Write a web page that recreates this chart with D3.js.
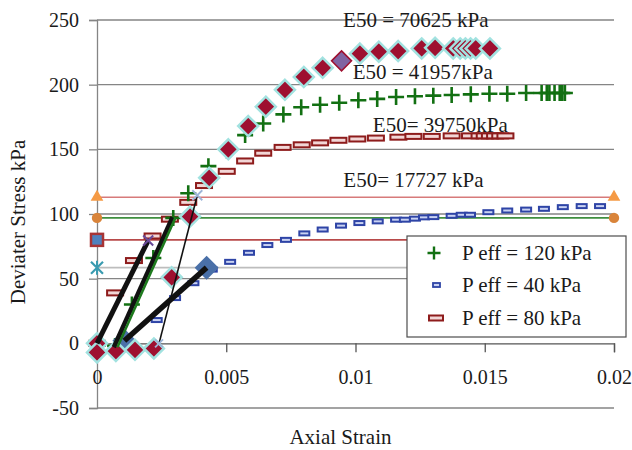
<!DOCTYPE html>
<html><head><meta charset="utf-8">
<script src="https://cdn.jsdelivr.net/npm/d3@7"></script>
<style>body{margin:0;background:#fff}svg{display:block}text{font-family:"Liberation Serif","Times New Roman",serif;fill:#1a1a1a}</style>
</head><body><svg id="c" width="632" height="450"></svg>
<script>
// ---- data ----
const yTicks = [-50, 0, 50, 100, 150, 200, 250];
const yTickLabels = ["-50", "0", "50", "100", "150", "200", "250"];
const xTicks = [0, 0.005, 0.01, 0.015, 0.02];
const xTickLabels = ["0", "0.005", "0.01", "0.015", "0.02"];

const strain120 = [0.0007, 0.00135, 0.00218, 0.00295, 0.00353, 0.00431, 0.00503, 0.00573, 0.00643, 0.00721, 0.0079, 0.00863, 0.00937, 0.01011, 0.01084, 0.01157, 0.0123, 0.01301, 0.01372, 0.01446, 0.01518, 0.01587, 0.0166, 0.0172, 0.0174, 0.0175, 0.0177, 0.0179, 0.018, 0.0181];
const stress120 = [-2, 30, 66, 97, 116, 137, 149, 161, 170, 177, 182.5, 184.5, 186, 188, 189, 190.5, 191, 191.5, 192, 192.5, 193, 193, 193.5, 193.5, 193.5, 193.5, 193.5, 193.5, 193.5, 193.5];

const strain40 = [0.00231, 0.00302, 0.00373, 0.00444, 0.00515, 0.00588, 0.00659, 0.00731, 0.00802, 0.00873, 0.00944, 0.01015, 0.01086, 0.01157, 0.01191, 0.0123, 0.01265, 0.01301, 0.01372, 0.01411, 0.01443, 0.01514, 0.01587, 0.0166, 0.01729, 0.01802, 0.01875, 0.01946];
const stress40 = [18, 35, 46.5, 57, 63, 70, 76, 80, 85, 88, 91, 93, 94.3, 95.6, 95.6, 96.4, 97.4, 97.6, 98.6, 99.4, 99.4, 101.4, 102.7, 103.4, 104, 105.3, 106.1, 106.1];

const strain80 = [0, 0.0007, 0.00143, 0.00215, 0.00282, 0.00353, 0.00414, 0.00502, 0.00573, 0.00643, 0.00718, 0.00792, 0.00863, 0.00934, 0.01007, 0.01079, 0.01166, 0.01224, 0.01295, 0.01372, 0.01443, 0.0148, 0.015, 0.0152, 0.0154, 0.0156, 0.0158];
const stress80 = [0, 39, 64, 83, 96, 109, 122, 133, 141, 147, 151.5, 153.5, 155, 157, 158, 158.7, 159.4, 160, 160, 160.4, 160.4, 160.4, 160.4, 160.4, 160.4, 160.4, 160.4];

const strainDia = [0, 0, 0.00073, 0.00147, 0.0022, 0.00289, 0.0036, 0.00434, 0.00508, 0.00585, 0.00653, 0.00727, 0.008, 0.00873, 0.01017, 0.0109, 0.01165, 0.01256, 0.01308, 0.01378, 0.01405, 0.01425, 0.01445, 0.01465, 0.0152];
const stressDia = [0, -7, -6, -5, -4, 51, 98, 128, 150, 168, 183, 196, 206, 213, 224, 225.5, 226, 228, 228.5, 228, 228, 228, 228, 228, 228];
const peakStrain = [0.00946];
const peakStress = [218.4];

const halfLevels = [113, 97, 80, 58.5];

// E50 secant lines: [strainStart, stressStart, strainEnd, stressEnd]
const e50_80 = [0, 0, 0.00198, 79.5];
const e50_120black = [0.00065, -3, 0.00292, 97.5];
const e50_120green = [0.00079, -3, 0.00303, 97];
const e50_40 = [0.00106, 2, 0.00424, 58.5];
const e50_dia = [0.0024, 0, 0.00388, 114.5];

const legendLabels = ["P eff = 120 kPa", "P eff = 40 kPa", "P eff = 80 kPa"];
const e50Labels = ["E50 = 70625 kPa", "E50 = 41957kPa", "E50= 39750kPa", "E50= 17727 kPa"];

// ---- drawing ----
const svg = d3.select("#c");
const x = d3.scaleLinear().domain([0, 0.02]).range([97, 614]);
const y = d3.scaleLinear().domain([-50, 250]).range([408, 20]);
const zip = (a, b) => a.map((v, i) => [v, b[i]]);

// gridlines
svg.append("g").selectAll("line").data(yTicks.filter(d => d !== 0)).join("line")
  .attr("x1", x(0)).attr("x2", x(0.02)).attr("y1", d => y(d)).attr("y2", d => y(d))
  .attr("stroke", "#858585").attr("stroke-width", 1.3);

// y axis
const yAxis = d3.axisLeft(y).tickValues(yTicks).tickSize(8).tickFormat((d, i) => yTickLabels[i]);
const gy = svg.append("g").attr("transform", `translate(${x(0)},0)`).call(yAxis);
gy.select(".domain").attr("stroke", "#858585").attr("stroke-width", 1.3);
gy.selectAll(".tick line").attr("stroke", "#858585").attr("stroke-width", 1.3);
gy.selectAll(".tick text").attr("x", -18).attr("dy", "0.33em").style("font-size", "20px")
  .style("font-family", '"Liberation Serif",serif').attr("fill", "#1a1a1a");

// x axis at y=0
const xAxis = d3.axisBottom(x).tickValues(xTicks).tickSize(9).tickFormat((d, i) => xTickLabels[i]);
const gx = svg.append("g").attr("transform", `translate(0,${y(0)})`).call(xAxis);
gx.select(".domain").attr("stroke", "#555").attr("stroke-width", 1.3);
gx.selectAll(".tick line").attr("stroke", "#555").attr("stroke-width", 1.3);
gx.selectAll(".tick text").attr("y", 34).attr("dy", "0.33em").style("font-size", "20px")
  .style("font-family", '"Liberation Serif",serif').attr("fill", "#1a1a1a");

// half-peak reference lines
const refColors = ["#d77a7a", "#3f8f3f", "#b84a4a", "#bdbdbd"];
svg.append("g").selectAll("line").data(halfLevels).join("line")
  .attr("x1", x(0)).attr("x2", x(0.02)).attr("y1", d => y(d)).attr("y2", d => y(d))
  .attr("stroke", (d, i) => refColors[i]).attr("stroke-width", 1.6);

const tri = d3.symbol().type(d3.symbolTriangle).size(70);
const circ = d3.symbol().type(d3.symbolCircle).size(85);
[0, 0.02].forEach(s => {
  svg.append("path").attr("d", tri).attr("transform", `translate(${x(s)},${y(halfLevels[0])})`).attr("fill", "#f59a45");
  svg.append("path").attr("d", circ).attr("transform", `translate(${x(s)},${y(halfLevels[1])})`).attr("fill", "#d9843a");
});
svg.append("rect").attr("x", x(0) - 6).attr("y", y(halfLevels[2]) - 6).attr("width", 12).attr("height", 12)
  .attr("fill", "#4f81bd").attr("stroke", "#a83434").attr("stroke-width", 2.5);
function xMark(g, cx, cy, r, color, w) {
  g.append("path").attr("d", `M${cx - r},${cy - r}L${cx + r},${cy + r}M${cx - r},${cy + r}L${cx + r},${cy - r}`)
    .attr("stroke", color).attr("stroke-width", w).attr("fill", "none");
}
{
  const cx = x(0), cy = y(halfLevels[3]);
  xMark(svg, cx, cy, 6, "#3a9bb0", 2.2);
  svg.append("line").attr("x1", cx).attr("x2", cx).attr("y1", cy - 7).attr("y2", cy + 7).attr("stroke", "#3a9bb0").attr("stroke-width", 2);
}

// blue dash series (40 kPa)
svg.append("g").selectAll("rect").data(zip(strain40, stress40)).join("rect")
  .attr("x", d => x(d[0]) - 5).attr("y", d => y(d[1]) - 2).attr("width", 10).attr("height", 4)
  .attr("fill", "#c9d2f2").attr("stroke", "#2e44a6").attr("stroke-width", 2);

// red dash series (80 kPa)
svg.append("g").selectAll("rect").data(zip(strain80, stress80)).join("rect")
  .attr("x", d => x(d[0]) - 8).attr("y", d => y(d[1]) - 2.5).attr("width", 16).attr("height", 5)
  .attr("fill", "#f2d6d6").attr("stroke", "#8e1c1c").attr("stroke-width", 2);

// green plus series (120 kPa)
function plus(g, cx, cy, r, w) {
  g.append("path").attr("d", `M${cx - r},${cy}L${cx + r},${cy}M${cx},${cy - r}L${cx},${cy + r}`)
    .attr("stroke", "#127012").attr("stroke-width", w).attr("fill", "none");
}
const gp = svg.append("g");
zip(strain120, stress120).forEach(d => plus(gp, x(d[0]), y(d[1]), 8, 2.6));

// E50 big blue diamonds (40 kPa)
const dia = r => `M0,${-r}L${r},0L0,${r}L${-r},0Z`;
[[e50_40[0], e50_40[1]], [e50_40[2], e50_40[3]]].forEach(p => {
  svg.append("path").attr("d", dia(12)).attr("transform", `translate(${x(p[0])},${y(p[1])})`).attr("fill", "#4a70a8");
});

// diamond series
svg.append("g").selectAll("path").data(zip(strainDia, stressDia)).join("path")
  .attr("d", dia(10)).attr("transform", d => `translate(${x(d[0])},${y(d[1])})`)
  .attr("fill", "#9e1030").attr("stroke", "#a2e2e0").attr("stroke-width", 2.5);
svg.append("g").selectAll("path").data(zip(peakStrain, peakStress)).join("path")
  .attr("d", dia(10)).attr("transform", d => `translate(${x(d[0])},${y(d[1])})`)
  .attr("fill", "#8064a2").attr("stroke", "#9e1030").attr("stroke-width", 1.5);

// E50 lines
function seg(s, color, w) {
  svg.append("line").attr("x1", x(s[0])).attr("y1", y(s[1])).attr("x2", x(s[2])).attr("y2", y(s[3]))
    .attr("stroke", color).attr("stroke-width", w).attr("stroke-linecap", "butt");
}
seg(e50_80, "#111", 5);
seg(e50_120black, "#111", 4.5);
seg(e50_120green, "#1e7a1e", 2.5);
seg(e50_40, "#111", 5.5);
seg(e50_dia, "#111", 1.6);
xMark(svg, x(e50_80[2]), y(e50_80[3]), 5, "#6a4a98", 2);
xMark(svg, x(e50_dia[0]), y(e50_dia[1]), 4, "#9db4d8", 1.8);
xMark(svg, x(e50_dia[2]), y(e50_dia[3]), 5, "#9db4d8", 1.8);

// E50 annotations
const annot = [[0.00952, 244.5], [0.00989, 204.3], [0.01067, 163.7], [0.00953, 120.5]];
svg.append("g").selectAll("text").data(e50Labels).join("text")
  .attr("x", (d, i) => x(annot[i][0])).attr("y", (d, i) => y(annot[i][1]))
  .style("font-size", "21px").text(d => d);

// legend
const lg = svg.append("g");
lg.append("rect").attr("x", 407).attr("y", 236).attr("width", 219).attr("height", 101)
  .attr("fill", "#fff").attr("stroke", "#4d4d4d").attr("stroke-width", 1.2);
const rowsY = [253, 285, 318];
plus(lg, 434, rowsY[0], 6.5, 2.4);
lg.append("rect").attr("x", 433).attr("y", rowsY[1] - 2).attr("width", 7).attr("height", 4)
  .attr("fill", "#c9d2f2").attr("stroke", "#2e44a6").attr("stroke-width", 1.8);
lg.append("rect").attr("x", 429).attr("y", rowsY[2] - 2.5).attr("width", 14).attr("height", 5)
  .attr("fill", "#f2d6d6").attr("stroke", "#8e1c1c").attr("stroke-width", 2);
lg.selectAll("text").data(legendLabels).join("text")
  .attr("x", 462).attr("y", (d, i) => rowsY[i] + 7).style("font-size", "21px").text(d => d);

// axis titles
svg.append("text").attr("x", x(0.01) - 15).attr("y", 444).attr("text-anchor", "middle")
  .style("font-size", "21px").text("Axial Strain");
svg.append("text").attr("transform", "translate(25,222) rotate(-90)").attr("text-anchor", "middle")
  .style("font-size", "21px").text("Deviater Stress kPa");
</script></body></html>
